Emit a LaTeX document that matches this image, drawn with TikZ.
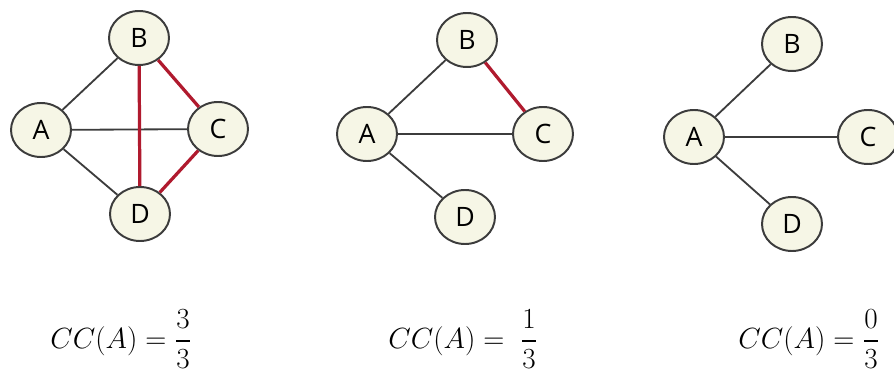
\documentclass[tikz,border=0pt]{standalone}
\usepackage[no-math]{fontspec}
\usepackage{amsmath}
\usetikzlibrary{shapes.geometric}
\newfontfamily\labelfont{Open Sans}
\definecolor{nodefill}{RGB}{246,246,230}
\definecolor{edgegray}{RGB}{60,60,60}
\definecolor{darkred}{RGB}{176,26,46}

\begin{document}
\begin{tikzpicture}[x=0.25mm, y=-0.25mm,
    vertex/.style={draw=edgegray, line width=1.4pt, fill=nodefill, ellipse, inner sep=0pt,
        minimum width=15mm, minimum height=13.5mm, font=\labelfont\fontsize{19}{21}\selectfont},
    plain/.style={draw=edgegray, line width=1.3pt},
    closed/.style={draw=darkred, line width=2.3pt},
    formula/.style={anchor=west, inner sep=0pt, font=\fontsize{20.74}{24}\selectfont}]
    \useasboundingbox (0,0) rectangle (894,374);

    % Graph 1: all neighbours linked
    \node[vertex] (a1) at (41,130) {A};
    \node[vertex] (b1) at (139,38) {B};
    \node[vertex] (c1) at (218,129) {C};
    \node[vertex] (d1) at (140,214) {D};
    \draw[plain] (a1) -- (b1);
    \draw[plain] (a1) -- (c1);
    \draw[plain] (a1) -- (d1);
    \draw[closed] (b1) -- (c1);
    \draw[closed] (b1) -- (d1);
    \draw[closed] (c1) -- (d1);

    % Graph 2: one link
    \node[vertex] (a2) at (367,134) {A};
    \node[vertex] (b2) at (467,40) {B};
    \node[vertex] (c2) at (543,134) {C};
    \node[vertex] (d2) at (465,217) {D};
    \draw[plain] (a2) -- (b2);
    \draw[plain] (a2) -- (c2);
    \draw[plain] (a2) -- (d2);
    \draw[closed] (b2) -- (c2);

    % Graph 3: no links
    \node[vertex] (a3) at (694,137) {A};
    \node[vertex] (b3) at (792,44) {B};
    \node[vertex] (c3) at (868,137) {C};
    \node[vertex] (d3) at (792,224) {D};
    \draw[plain] (a3) -- (b3);
    \draw[plain] (a3) -- (c3);
    \draw[plain] (a3) -- (d3);

    % Formulas
    \node[formula] (cc1) at (50,339) {$CC(A) = \dfrac{3}{3}$};
    \node[formula] (cc2) at (388,339) {$CC(A) =\; \dfrac{1}{3}$};
    \node[formula] (cc3) at (738,339) {$CC(A) = \dfrac{0}{3}$};
\end{tikzpicture}
\end{document}
